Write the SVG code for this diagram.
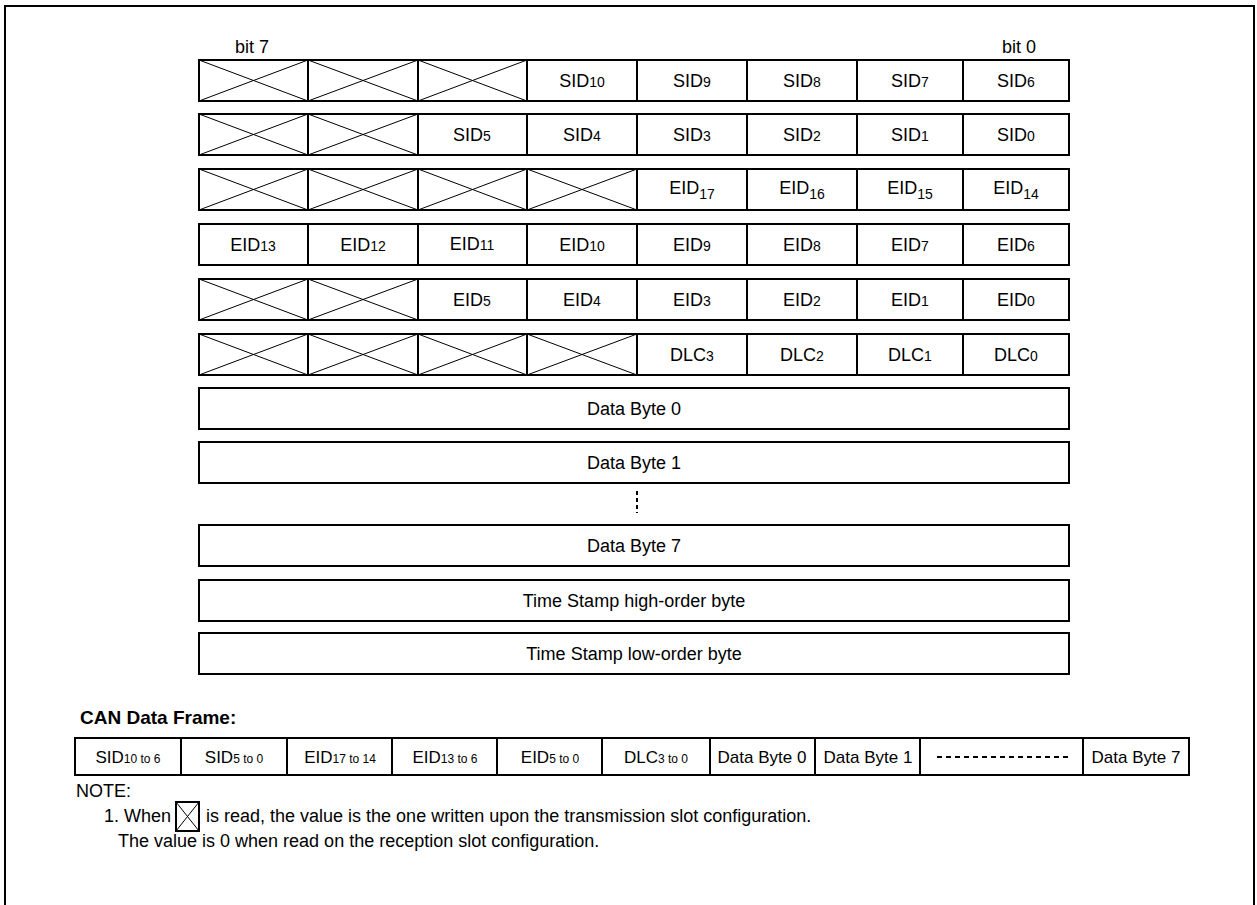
<svg xmlns="http://www.w3.org/2000/svg" width="1257" height="905" viewBox="0 0 1257 905">
<style>
text{font-family:"Liberation Sans",Arial,sans-serif;fill:#000}
.t{font-size:18px;text-anchor:middle}
.s{font-size:14px}
.cell{fill:#fff;stroke:#000;stroke-width:2}
.div{stroke:#000;stroke-width:2;fill:none}
.x{stroke:#000;stroke-width:1;fill:none}
.f{font-size:17px;text-anchor:middle}
.fs{font-size:12px}
.n{font-size:18px}
</style>
<rect width="1257" height="905" fill="#fff"/>
<path d="M5,905 V6 H1254 V905" fill="none" stroke="#000" stroke-width="2"/>
<text class="n" x="235" y="53">bit 7</text>
<text class="n" x="1002" y="53">bit 0</text>

<g id="row1">
<rect class="cell" x="199" y="60" width="870" height="41"/>
<path class="div" d="M308,60V101M418,60V101M527,60V101M637,60V101M747,60V101M857,60V101M963,60V101"/>
<path class="x" d="M199,60L308,101M199,101L308,60M308,60L418,101M308,101L418,60M418,60L527,101M418,101L527,60"/>
<text class="t" x="582" y="87">SID<tspan class="s">10</tspan></text>
<text class="t" x="692" y="87">SID<tspan class="s">9</tspan></text>
<text class="t" x="802" y="87">SID<tspan class="s">8</tspan></text>
<text class="t" x="910" y="87">SID<tspan class="s">7</tspan></text>
<text class="t" x="1016" y="87">SID<tspan class="s">6</tspan></text>
</g>
<g id="row2">
<rect class="cell" x="199" y="114" width="870" height="41"/>
<path class="div" d="M308,114V155M418,114V155M527,114V155M637,114V155M747,114V155M857,114V155M963,114V155"/>
<path class="x" d="M199,114L308,155M199,155L308,114M308,114L418,155M308,155L418,114"/>
<text class="t" x="472" y="141">SID<tspan class="s">5</tspan></text>
<text class="t" x="582" y="141">SID<tspan class="s">4</tspan></text>
<text class="t" x="692" y="141">SID<tspan class="s">3</tspan></text>
<text class="t" x="802" y="141">SID<tspan class="s">2</tspan></text>
<text class="t" x="910" y="141">SID<tspan class="s">1</tspan></text>
<text class="t" x="1016" y="141">SID<tspan class="s">0</tspan></text>
</g>
<g id="row3">
<rect class="cell" x="199" y="169" width="870" height="41"/>
<path class="div" d="M308,169V210M418,169V210M527,169V210M637,169V210M747,169V210M857,169V210M963,169V210"/>
<path class="x" d="M199,169L308,210M199,210L308,169M308,169L418,210M308,210L418,169M418,169L527,210M418,210L527,169M527,169L637,210M527,210L637,169"/>
<text class="t" x="692" y="194">EID<tspan class="s" dy="5">17</tspan></text>
<text class="t" x="802" y="194">EID<tspan class="s" dy="5">16</tspan></text>
<text class="t" x="910" y="194">EID<tspan class="s" dy="5">15</tspan></text>
<text class="t" x="1016" y="194">EID<tspan class="s" dy="5">14</tspan></text>
</g>
<g id="row4">
<rect class="cell" x="199" y="224" width="870" height="41"/>
<path class="div" d="M308,224V265M418,224V265M527,224V265M637,224V265M747,224V265M857,224V265M963,224V265"/>
<text class="t" x="253" y="251">EID<tspan class="s">13</tspan></text>
<text class="t" x="363" y="251">EID<tspan class="s">12</tspan></text>
<text class="t" x="472" y="250">EID<tspan class="s">11</tspan></text>
<text class="t" x="582" y="251">EID<tspan class="s">10</tspan></text>
<text class="t" x="692" y="251">EID<tspan class="s">9</tspan></text>
<text class="t" x="802" y="251">EID<tspan class="s">8</tspan></text>
<text class="t" x="910" y="251">EID<tspan class="s">7</tspan></text>
<text class="t" x="1016" y="251">EID<tspan class="s">6</tspan></text>
</g>
<g id="row5">
<rect class="cell" x="199" y="279" width="870" height="41"/>
<path class="div" d="M308,279V320M418,279V320M527,279V320M637,279V320M747,279V320M857,279V320M963,279V320"/>
<path class="x" d="M199,279L308,320M199,320L308,279M308,279L418,320M308,320L418,279"/>
<text class="t" x="472" y="306">EID<tspan class="s">5</tspan></text>
<text class="t" x="582" y="306">EID<tspan class="s">4</tspan></text>
<text class="t" x="692" y="306">EID<tspan class="s">3</tspan></text>
<text class="t" x="802" y="306">EID<tspan class="s">2</tspan></text>
<text class="t" x="910" y="306">EID<tspan class="s">1</tspan></text>
<text class="t" x="1016" y="306">EID<tspan class="s">0</tspan></text>
</g>
<g id="row6">
<rect class="cell" x="199" y="334" width="870" height="41"/>
<path class="div" d="M308,334V375M418,334V375M527,334V375M637,334V375M747,334V375M857,334V375M963,334V375"/>
<path class="x" d="M199,334L308,375M199,375L308,334M308,334L418,375M308,375L418,334M418,334L527,375M418,375L527,334M527,334L637,375M527,375L637,334"/>
<text class="t" x="692" y="361">DLC<tspan class="s">3</tspan></text>
<text class="t" x="802" y="361">DLC<tspan class="s">2</tspan></text>
<text class="t" x="910" y="361">DLC<tspan class="s">1</tspan></text>
<text class="t" x="1016" y="361">DLC<tspan class="s">0</tspan></text>
</g>
<g id="data0"><rect class="cell" x="199" y="388" width="870" height="41"/><text class="t" x="634" y="415">Data Byte 0</text></g>
<g id="data1"><rect class="cell" x="199" y="442" width="870" height="41"/><text class="t" x="634" y="469">Data Byte 1</text></g>
<line x1="637" y1="491" x2="637" y2="513" stroke="#000" stroke-width="2" stroke-dasharray="4,3"/>
<g id="data7"><rect class="cell" x="199" y="525" width="870" height="41"/><text class="t" x="634" y="552">Data Byte 7</text></g>
<g id="tsh"><rect class="cell" x="199" y="580" width="870" height="41"/><text class="t" x="634" y="607">Time Stamp high-order byte</text></g>
<g id="tsl"><rect class="cell" x="199" y="633" width="870" height="41"/><text class="t" x="634" y="660">Time Stamp low-order byte</text></g>

<text x="80" y="724" style="font-size:19px;font-weight:bold">CAN Data Frame:</text>
<g id="frame">
<rect class="cell" x="75" y="738" width="1114" height="37"/>
<path class="div" d="M181,738V775M287,738V775M392,738V775M497,738V775M602,738V775M710,738V775M815,738V775M920,738V775M1083,738V775"/>
<text class="f" x="128" y="763">SID<tspan class="fs">10 to 6</tspan></text>
<text class="f" x="234" y="763">SID<tspan class="fs">5 to 0</tspan></text>
<text class="f" x="340" y="763">EID<tspan class="fs">17 to 14</tspan></text>
<text class="f" x="445" y="763">EID<tspan class="fs">13 to 6</tspan></text>
<text class="f" x="550" y="763">EID<tspan class="fs">5 to 0</tspan></text>
<text class="f" x="656" y="763">DLC<tspan class="fs">3 to 0</tspan></text>
<text class="f" x="762" y="763">Data Byte 0</text>
<text class="f" x="868" y="763">Data Byte 1</text>
<line x1="937" y1="757" x2="1068" y2="757" stroke="#000" stroke-width="2" stroke-dasharray="5,4"/>
<text class="f" x="1136" y="763">Data Byte 7</text>
</g>
<g id="note">
<text class="n" x="76" y="797">NOTE:</text>
<text class="n" x="104" y="822">1. When</text>
<rect x="176" y="802" width="23" height="29" fill="#fff" stroke="#000" stroke-width="2"/>
<path d="M176,802L199,831M176,831L199,802" stroke="#000" stroke-width="1"/>
<text class="n" x="206" y="822">is read, the value is the one written upon the transmission slot configuration.</text>
<text class="n" x="118" y="847">The value is 0 when read on the reception slot configuration.</text>
</g>
</svg>
